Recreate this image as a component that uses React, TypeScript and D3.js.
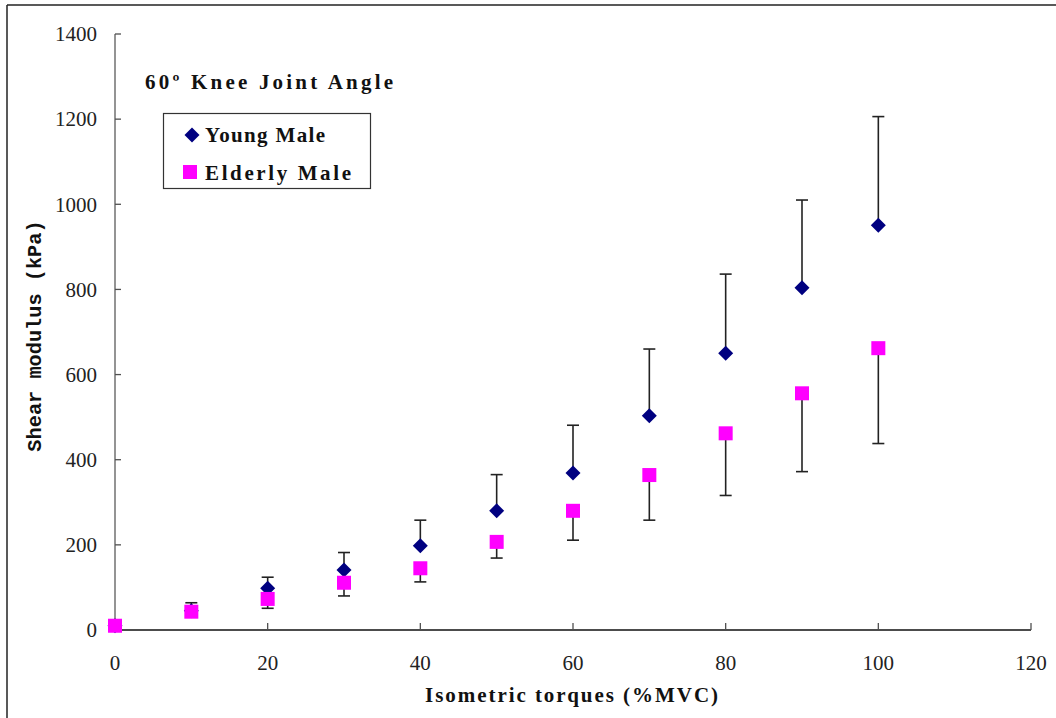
import React from "react";
import * as d3 from "d3";

const torques = [0, 10, 20, 30, 40, 50, 60, 70, 80, 90, 100];
const youngMean = [10, 45, 98, 141, 198, 280, 369, 503, 650, 804, 951];
const youngUpper = [12, 64, 124, 182, 258, 365, 481, 660, 836, 1010, 1206];
const elderlyMean = [10, 43, 73, 111, 145, 207, 280, 364, 462, 556, 662];
const elderlyLower = [8, 40, 51, 80, 113, 169, 211, 258, 316, 372, 438];
const xTicks = [0, 20, 40, 60, 80, 100, 120];
const yTicks = [0, 200, 400, 600, 800, 1000, 1200, 1400];

const W = 1056;
const H = 718;
const M = { left: 115, right: 1031, top: 34, bottom: 630 };

export default function App() {
  const x = d3.scaleLinear().domain([0, 120]).range([M.left, M.right]);
  const y = d3.scaleLinear().domain([0, 1400]).range([M.bottom, M.top]);
  const tickFont = "'Liberation Serif', 'Times New Roman', serif";
  const serifFont = "'Liberation Serif', 'Times New Roman', serif";
  const monoFont = "'Liberation Mono', 'Courier New', monospace";
  const dpath = (cx: number, cy: number, r: number) =>
    `M${cx},${cy - r}L${cx + r},${cy}L${cx},${cy + r}L${cx - r},${cy}Z`;
  const cap = 6;
  const label = { fontFamily: serifFont, fontWeight: "bold" as const, fontSize: 21, fill: "#111" };
  return (
    <svg
      width={W}
      height={H}
      style={{ position: "absolute", left: 0, top: 0, background: "#fff" }}
    >
      <rect x={0} y={0} width={W} height={H} fill="#fff" />
      {/* frame */}
      <line x1={7} y1={5} x2={W} y2={5} stroke="#222" strokeWidth={1.5} />
      <line x1={7} y1={5} x2={7} y2={H} stroke="#222" strokeWidth={1.5} />

      {/* y axis */}
      <line x1={M.left} y1={y(0)} x2={M.left} y2={y(1400)} stroke="#707070" strokeWidth={1.5} />
      {yTicks.map((t) => (
        <g key={"y" + t}>
          <line x1={M.left} x2={M.left + 6} y1={y(t)} y2={y(t)} stroke="#505050" strokeWidth={1.3} />
          <text
            x={97}
            y={y(t)}
            dy="0.35em"
            textAnchor="end"
            fontFamily={tickFont}
            fontSize={21}
            fill="#222"
          >
            {t}
          </text>
        </g>
      ))}

      {/* x axis */}
      <line x1={M.left} y1={y(0)} x2={M.right} y2={y(0)} stroke="#111" strokeWidth={1.5} />
      {xTicks.map((t) => (
        <g key={"x" + t}>
          <line x1={x(t)} x2={x(t)} y1={y(0)} y2={y(0) - 7} stroke="#505050" strokeWidth={1.3} />
          <text
            x={x(t)}
            y={670}
            textAnchor="middle"
            fontFamily={tickFont}
            fontSize={21}
            fill="#222"
          >
            {t}
          </text>
        </g>
      ))}

      {/* axis titles */}
      <text x={425} y={702} textLength={293} lengthAdjust="spacing" {...label}>
        Isometric torques (%MVC)
      </text>
      <text
        transform={`translate(41, 336) rotate(-90)`}
        textAnchor="middle"
        fontFamily={monoFont}
        fontWeight="bold"
        fontSize={20.3}
        fill="#111"
      >
        Shear modulus (kPa)
      </text>

      {/* chart title inside */}
      <text x={145} y={89} textLength={248} lengthAdjust="spacing" {...label}>
        60º Knee Joint Angle
      </text>

      {/* legend */}
      <rect x={163.5} y={113.5} width={207} height={75} fill="#fff" stroke="#333" strokeWidth={1.2} />
      <path d={dpath(192, 135, 7.5)} fill="#000080" />
      <text x={205} y={142} textLength={120} lengthAdjust="spacing" {...label}>
        Young Male
      </text>
      <rect x={183} y={165} width={14} height={14} fill="#FF00FF" />
      <text x={205} y={180} textLength={146} lengthAdjust="spacing" {...label}>
        Elderly Male
      </text>

      {/* young error bars (upper) */}
      {torques.map((t, i) => (
        <g key={"ye" + t} stroke="#222" strokeWidth={1.6}>
          <line x1={x(t)} x2={x(t)} y1={y(youngMean[i])} y2={y(youngUpper[i])} />
          <line x1={x(t) - cap} x2={x(t) + cap} y1={y(youngUpper[i])} y2={y(youngUpper[i])} />
        </g>
      ))}
      {/* elderly error bars (lower) */}
      {torques.map((t, i) => (
        <g key={"ee" + t} stroke="#222" strokeWidth={1.6}>
          <line x1={x(t)} x2={x(t)} y1={y(elderlyMean[i])} y2={y(elderlyLower[i])} />
          <line x1={x(t) - cap} x2={x(t) + cap} y1={y(elderlyLower[i])} y2={y(elderlyLower[i])} />
        </g>
      ))}
      {/* young markers */}
      {torques.map((t, i) => (
        <path key={"ym" + t} d={dpath(x(t), y(youngMean[i]), 7.5)} fill="#000080" />
      ))}
      {/* elderly markers */}
      {torques.map((t, i) => (
        <rect
          key={"em" + t}
          x={x(t) - 7}
          y={y(elderlyMean[i]) - 7}
          width={14}
          height={14}
          fill="#FF00FF"
        />
      ))}
    </svg>
  );
}
